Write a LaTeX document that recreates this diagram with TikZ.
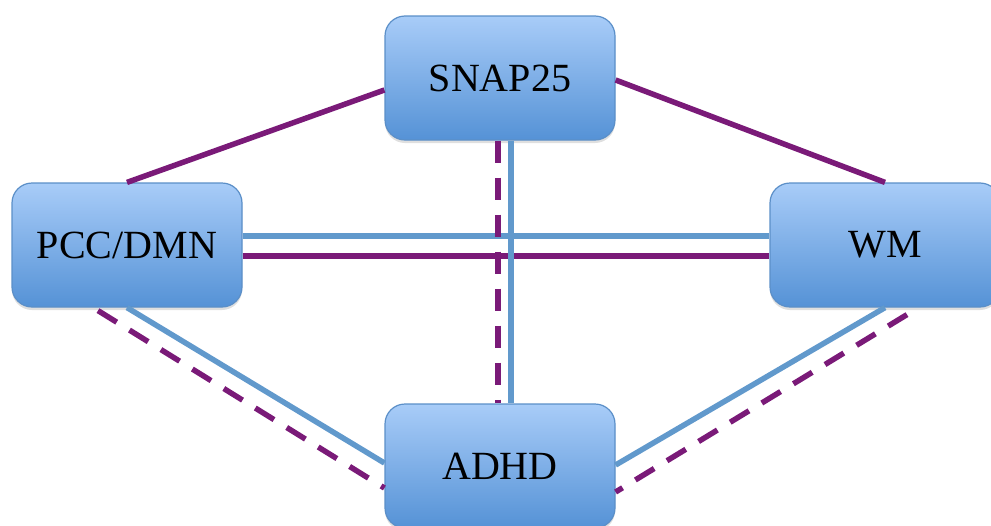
\documentclass[tikz,border=0pt]{standalone}
\usepackage{fontspec}
\setmainfont{Liberation Serif}
\usepackage{tikz}
\usetikzlibrary{shadows}

\definecolor{boxtop}{HTML}{A8CCF8}
\definecolor{boxbot}{HTML}{5592D6}
\definecolor{boxline}{HTML}{5B8FC8}
\definecolor{linkblue}{HTML}{6199CC}
\definecolor{linkpurple}{HTML}{7A1A78}

\begin{document}
\begin{tikzpicture}[x=1pt,y=-1pt,
  box/.style={rectangle, rounded corners=20pt, draw=boxline, line width=1.2pt,
    top color=boxtop, bottom color=boxbot, minimum width=230pt, minimum height=124pt,
    font=\fontsize{40}{48}\selectfont,
    drop shadow={opacity=0.25, shadow xshift=0pt, shadow yshift=-3pt}},
  blueline/.style={draw=linkblue, line width=5.5pt},
  purpleline/.style={draw=linkpurple, line width=5.5pt},
  purpledash/.style={draw=linkpurple, line width=5.5pt, dash pattern=on 22pt off 15pt}]

\useasboundingbox (0,0) rectangle (991,525);

\node (snap) at (500,78) [box]{SNAP25};

\node (pcc) at (127,245) [box]{PCC/DMN};
\node (wm) at (885,245) [box]{WM};

\node (adhd) at (500,466) [box]{ADHD};

\draw [purpleline] ([yshift=-12pt]snap.west) -- (pcc.north);
\draw [purpleline] ([yshift=-2pt]snap.east) -- (wm.north);

\draw [blueline] ([yshift=9pt]pcc.east) -- ([yshift=9pt]wm.west);
\draw [purpleline] ([yshift=-11pt]pcc.east) -- ([yshift=-11pt]wm.west);

\draw [purpledash] ([xshift=-2pt]snap.south) -- ([xshift=-2pt]adhd.north);
\draw [blueline] ([xshift=11pt]snap.south) -- ([xshift=11pt]adhd.north);

\draw [blueline] (pcc.south) -- ([yshift=3pt]adhd.west);
\draw [purpledash] ([xshift=-29pt,yshift=-3pt]pcc.south) -- ([yshift=-22pt]adhd.west);

\draw [blueline] (wm.south) -- ([yshift=1pt]adhd.east);
\draw [purpledash] ([xshift=22pt,yshift=-7pt]wm.south) -- ([yshift=-26pt]adhd.east);

\end{tikzpicture}
\end{document}
